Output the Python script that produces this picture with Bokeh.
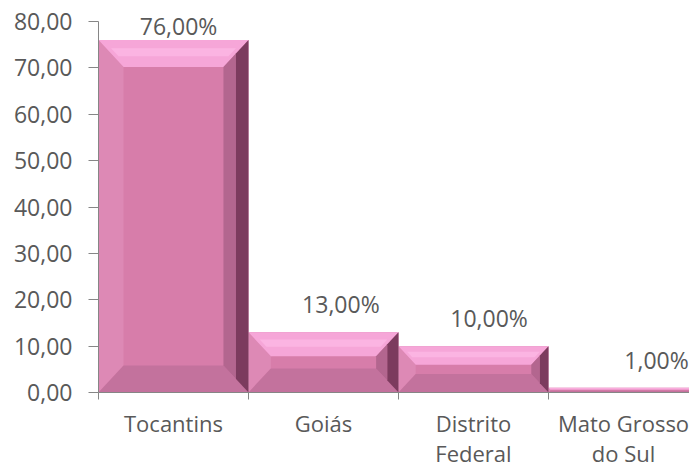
from bokeh.plotting import figure
from bokeh.models import FixedTicker, CustomJSTickFormatter, Range1d, LabelSet, ColumnDataSource
from bokeh.core.properties import value
from bokeh.embed import file_html
from bokeh.resources import INLINE
import numpy as np

# ---- data ----
categories = ["Tocantins", "Goiás", "Distrito\nFederal", "Mato Grosso\ndo Sul"]
values = [76.0, 13.0, 10.0, 1.0]
value_labels = ["76,00%", "13,00%", "10,00%", "1,00%"]
y_ticks = [0, 10, 20, 30, 40, 50, 60, 70, 80]

# ---- style ----
FONT = "Open Sans"
FS = "23px"
FSX = "22px"
TXT = "#595959"
AX = "#868686"
FACE = "#D77DAA"
TOP = "#F6A6D8"
TOP_IN = "#FBB4E2"
LEFT = "#DD89B5"
RIGHT_IN = "#B3668F"
RIGHT_OUT = "#7C3B5E"
BOTTOM = "#C3729D"
label_dx = [0.034, 0.116, 0.104, 0.22]

n = len(categories)
FRAME_W, FRAME_H = 591, 392
SCALE = (392 - 21) / 80.0
p = figure(frame_width=FRAME_W, frame_height=FRAME_H, output_backend="svg", toolbar_location=None,
           x_range=Range1d(0, FRAME_W / 150.0), y_range=Range1d(0, 80 + 21 / SCALE),
           min_border_left=98, min_border_right=0, min_border_top=0, min_border_bottom=75)
p.outline_line_color = None
p.xgrid.visible = False
p.ygrid.visible = False
p.background_fill_color = "white"

x = np.arange(n)
v = np.array(values)
p.vbar(x=x + 0.5, top=v, bottom=0, width=1.0, fill_color=FACE, line_color=None)

# bevels computed from the values
bx, by = 0.167, 27 / SCALE
tops, tops_in, rights_in, rights_out, lefts, bottoms = [], [], [], [], [], []
for i, h in enumerate(values):
    L, R = float(i), float(i + 1)
    dy = min(by, h * 0.4)
    dx = bx * dy / by
    tops.append(([L, R, R - dx, L + dx], [h, h, h - dy, h - dy]))
    tops_in.append(([L + dx * 0.5, R - dx * 0.5, R - dx * 0.8, L + dx * 0.8],
                    [h - dy * 0.3, h - dy * 0.3, h - dy * 0.6, h - dy * 0.6]))
    rights_out.append(([R, R - dx / 2, R - dx / 2, R], [h, h - dy / 2, dy / 2, 0]))
    rights_in.append(([R - dx / 2, R - dx, R - dx, R - dx / 2], [h - dy / 2, h - dy, dy, dy / 2]))
    lefts.append(([L, L + dx, L + dx, L], [h, h - dy, dy, 0]))
    bottoms.append(([L, L + dx, R - dx, R], [0, dy, dy, 0]))

for polys, col in [(lefts, LEFT), (bottoms, BOTTOM), (tops, TOP), (tops_in, TOP_IN),
                   (rights_in, RIGHT_IN), (rights_out, RIGHT_OUT)]:
    p.patches(xs=[a for a, b in polys], ys=[b for a, b in polys], fill_color=col, line_color=None)

# data labels
ly = np.minimum(v + 6.0, 79.0)
src = ColumnDataSource(dict(x=x + 0.5 + np.array(label_dx), y=ly, t=value_labels))
p.add_layout(LabelSet(x="x", y="y", text="t", source=src, text_font=value(FONT),
                      text_font_size=value(FS), text_color=TXT, text_align="center",
                      text_baseline="middle"))

# y axis
p.yaxis.ticker = FixedTicker(ticks=y_ticks)
p.yaxis.bounds = (0, 80)
p.yaxis.formatter = CustomJSTickFormatter(code="return tick.toFixed(2).replace('.', ',');")
p.yaxis.axis_line_color = AX
p.yaxis.major_tick_line_color = AX
p.yaxis.major_tick_out = 10
p.yaxis.major_tick_in = 0
p.yaxis.minor_tick_line_color = None
p.yaxis.major_label_standoff = 16
p.yaxis.major_label_text_font = FONT
p.yaxis.major_label_text_font_size = FS
p.yaxis.major_label_text_color = TXT

# x axis
centers = [i + 0.5 for i in range(n)]
p.xaxis.ticker = FixedTicker(ticks=centers, minor_ticks=list(range(n + 1)))
p.xaxis.major_label_overrides = {c: lab for c, lab in zip(centers, categories)}
p.xaxis.axis_line_color = AX
p.xaxis.major_tick_line_color = None
p.xaxis.major_tick_out = 0
p.xaxis.major_tick_in = 0
p.xaxis.minor_tick_line_color = AX
p.xaxis.minor_tick_out = 7
p.xaxis.minor_tick_in = 0
p.xaxis.major_label_standoff = 8
p.xaxis.major_label_text_font = FONT
p.xaxis.major_label_text_font_size = FSX
p.xaxis.major_label_text_color = TXT
p.xaxis.major_label_text_line_height = 1.0

open("out.html", "w").write(file_html(p, INLINE))
